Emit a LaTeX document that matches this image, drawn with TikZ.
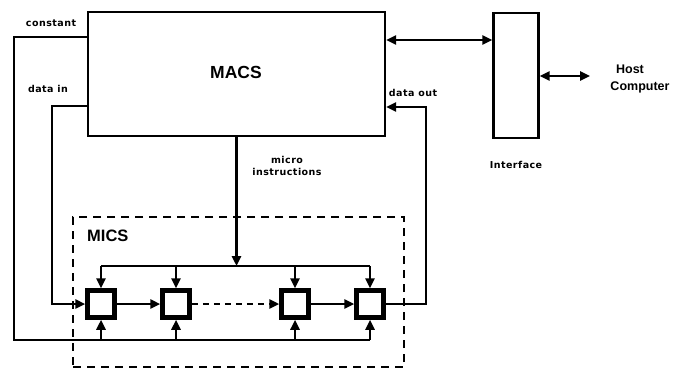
\documentclass[tikz,border=0pt]{standalone}
\usepackage{fontspec}
\setmainfont{Liberation Sans}
\newfontfamily\lblfont[LetterSpace=5]{DejaVu Sans}
\usetikzlibrary{arrows.meta}
\begin{document}
\begin{tikzpicture}[x=1pt,y=-1pt,
  ln/.style={line width=2.4pt},
  arr/.style={ln,-{Triangle[length=10pt,width=9pt]}},
  darr/.style={ln,{Triangle[length=10pt,width=9pt]}-{Triangle[length=10pt,width=9pt]}},
  cell/.style={draw,line width=4.5pt,minimum size=27pt,inner sep=0pt},
  lbl/.style={font=\lblfont\bfseries\fontsize{9.5}{12}\selectfont,align=center,inner sep=0pt}]
\useasboundingbox (0,0) rectangle (674,370);
% main boxes
\node[draw,ln,minimum width=297pt,minimum height=124pt,inner sep=0pt] (macs) at (236.5,74) {};
\node[font=\bfseries\fontsize{17.5}{20}\selectfont,inner sep=0pt,anchor=base] (macslbl) at (236,78) {MACS};
\node[draw,ln,minimum width=45pt,minimum height=125pt,inner sep=0pt] (intf) at (516,75.5) {};
\node[font=\bfseries\fontsize{12.5}{17}\selectfont,align=center,inner sep=0pt] (host) at (640,79) {Host\hspace*{20pt}\\Computer};
\node[lbl] (intflbl) at (516,165) {Interface};
% MICS box
\node[draw,ln,dash pattern=on 8pt off 6pt,minimum width=331pt,minimum height=150pt,inner sep=0pt] (mics) at (238.5,292) {};
\node[font=\bfseries\fontsize{16.5}{18}\selectfont,anchor=base west,inner sep=0pt] (micslbl) at (87,241) {MICS};
% cells
\node[cell] (c1) at (101,304) {};
\node[cell] (c2) at (176,304) {};
\node[cell] (c3) at (295,304) {};
\node[cell] (c4) at (370,304) {};
% labels
\node[lbl] (lconst) at (51,23) {constant};
\node[lbl] (ldin) at (48,89) {data in};
\node[lbl] (ldout) at (413,93) {data out};
\node[lbl] (lmicro) at (287,166) {micro\\instructions};
% helper coordinates
\coordinate (tbus) at (0,266);
\coordinate (bbus) at (0,340);
\coordinate (cst) at (14,37);
\coordinate (din) at (52,106);
\coordinate (dout) at (426,107);
\coordinate (ifl) at (0,40);
\coordinate (hst) at (590,76);
% host links
\draw[darr] (macs.east|-ifl) -- (intf.west|-ifl);
\draw[darr] (intf.east|-hst) -- (hst);
% micro instructions
\draw[arr,line width=3.2pt] (macs.south) -- (macs.south|-tbus);
\draw[ln] (c1|-tbus) -- (c4|-tbus);
\foreach \c in {c1,c2,c3,c4} {\draw[arr] (\c|-tbus) -- (\c.north);}
% constant bus
\draw[ln] (macs.west|-cst) -- (cst) -- (cst|-bbus) -- (c4|-bbus);
\foreach \c in {c1,c2,c3,c4} {\draw[arr] (\c|-bbus) -- (\c.south);}
% data in
\draw[arr] (macs.west|-din) -- (din) |- (c1.west);
% cell chain
\draw[arr] (c1.east) -- (c2.west);
\draw[arr,dash pattern=on 6pt off 5pt] (c2.east) -- (c3.west);
\draw[arr] (c3.east) -- (c4.west);
% data out
\draw[arr] (c4.east) -| (dout) -- (macs.east|-dout);
\end{tikzpicture}
\end{document}
